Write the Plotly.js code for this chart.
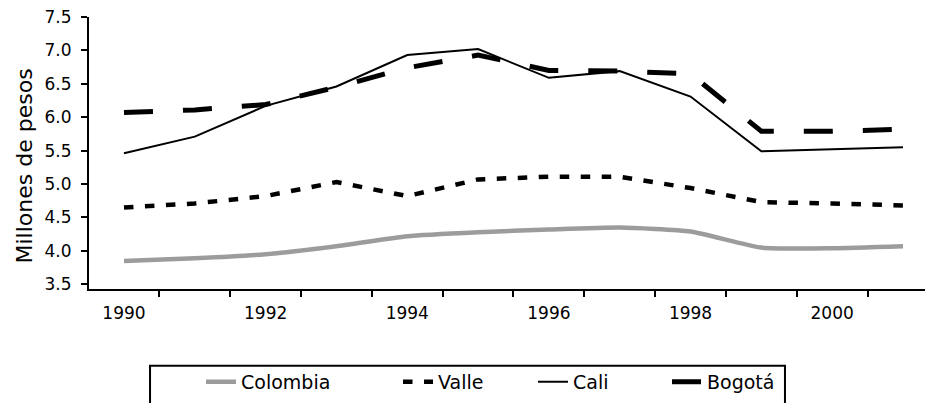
<!DOCTYPE html>
<html>
<head>
<meta charset="utf-8">
<script src="https://cdn.plot.ly/plotly-3.0.1.min.js"></script>
<style>
html,body{margin:0;padding:0;background:#fff;}
#chart{width:929px;height:403px;}
</style>
</head>
<body>
<div id="chart"></div>
<script>
// ---- data ----
var years = [1990, 1991, 1992, 1993, 1994, 1995, 1996, 1997, 1998, 1999, 2000, 2001];
var colombia = [3.85, 3.89, 3.95, 4.07, 4.22, 4.28, 4.32, 4.35, 4.29, 4.05, 4.04, 4.07];
var valle    = [4.65, 4.71, 4.82, 5.03, 4.82, 5.07, 5.11, 5.11, 4.94, 4.73, 4.71, 4.68];
var cali     = [5.46, 5.71, 6.17, 6.46, 6.93, 7.02, 6.59, 6.69, 6.31, 5.49, 5.52, 5.55];
var bogota   = [6.07, 6.11, 6.19, 6.45, 6.74, 6.93, 6.70, 6.69, 6.65, 5.79, 5.79, 5.82];
var seriesNames = ['Colombia', 'Valle', 'Cali', 'Bogotá'];
var yTitle = 'Millones de pesos';

var FONT = 'DejaVu Sans, Arial, sans-serif';

var traces = [
  {x: years, y: colombia, name: seriesNames[0], mode: 'lines',
   line: {color: '#9c9c9c', width: 4.5, shape: 'spline', smoothing: 0.5}, legendwidth: 152},
  {x: years, y: valle, name: seriesNames[1], mode: 'lines',
   line: {color: '#000', width: 4.5, dash: '9.5px,11.5px'}, legendwidth: 90},
  {x: years, y: cali, name: seriesNames[2], mode: 'lines',
   line: {color: '#000', width: 2}, legendwidth: 89},
  {x: years, y: bogota, name: seriesNames[3], mode: 'lines',
   line: {color: '#000', width: 5, dash: '29px,30px'}, legendwidth: 70}
];

var layout = {
  width: 929, height: 403,
  margin: {l: 89, r: 4, t: 17, b: 113},
  paper_bgcolor: '#fff', plot_bgcolor: '#fff',
  font: {family: FONT, color: '#000', size: 17},
  showlegend: true,
  legend: {
    orientation: 'h', x: 0.134, xanchor: 'left', y: -0.267, yanchor: 'top',
    bgcolor: 'rgba(0,0,0,0)', borderwidth: 0,
    font: {family: FONT, size: 19, color: '#000'}, itemwidth: 30
  },
  xaxis: {
    range: [1989.506, 2001.311], showgrid: false, zeroline: false,
    showline: true, linecolor: '#000', linewidth: 2,
    tick0: 1990, dtick: 2, ticks: '', ticklabelstandoff: 8,
    tickfont: {family: FONT, size: 17, color: '#000'},
    minor: {ticks: 'outside', tick0: 1990.5, dtick: 1, ticklen: 6, tickwidth: 2, tickcolor: '#000', showgrid: false}
  },
  yaxis: {
    range: [3.43, 7.5], showgrid: false, zeroline: false,
    showline: true, linecolor: '#000', linewidth: 2,
    tick0: 3.5, dtick: 0.5, tickformat: '.1f',
    ticks: 'outside', ticklen: 6, tickwidth: 2, tickcolor: '#000',
    ticklabelstandoff: 6,
    tickfont: {family: FONT, size: 17, color: '#000'}
  },
  annotations: [{
    text: yTitle, xref: 'paper', yref: 'paper', x: -0.0766, y: 0.454,
    xanchor: 'center', yanchor: 'middle', textangle: -90, showarrow: false,
    font: {family: FONT, size: 22, color: '#000'}
  }],
  shapes: [{
    type: 'rect', xref: 'paper', yref: 'paper',
    x0: 0.073, x1: 0.8325, y0: -0.45, y1: -0.282,
    line: {color: '#000', width: 2}, fillcolor: 'rgba(0,0,0,0)', layer: 'above'
  }]
};

Plotly.newPlot('chart', traces, layout, {displayModeBar: false, staticPlot: true});
</script>
</body>
</html>
